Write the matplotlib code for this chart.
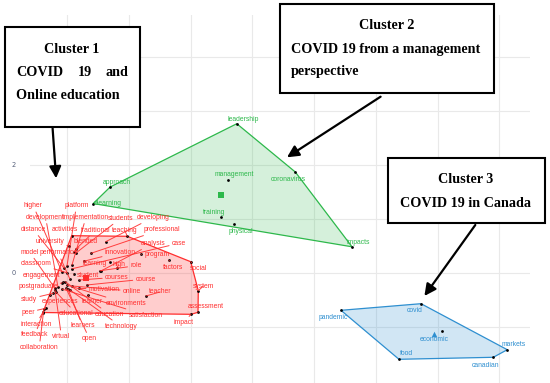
import matplotlib
matplotlib.use("Agg")
import matplotlib.pyplot as plt
from matplotlib.patches import Polygon, Rectangle
from matplotlib.colors import to_rgba

# ---------------- data ----------------
# Cluster 1 : COVID 19 and Online education
c1_words = ["higher", "platform", "development", "implementation", "students", "developing",
            "distance", "activities", "traditional", "teaching", "professional", "university",
            "blended", "analysis", "case", "model", "performance", "innovation", "program",
            "classroom", "learning", "high", "role", "factors", "social", "engagement",
            "student", "courses", "course", "postgraduate", "system", "motivation", "online",
            "teacher", "study", "experiences", "learner", "environments", "assessment", "peer",
            "educational", "education", "satisfaction", "impact", "interaction", "learners",
            "technology", "feedback", "virtual", "open", "collaboration"]
c1_x = [-1.086, -1.005, -1.151, -0.924, -0.859, -0.378, -1.053, -0.929, -0.864, -0.028,
        -0.616, -0.972, -0.886, -0.454, -0.919, -1.199, -0.956, -0.734, 0.194, -1.010,
        -0.308, -0.199, -0.470, 0.648, 1.000, -1.065, -0.896, -0.805, -0.685, -1.086,
        1.123, -0.805, -0.919, 0.275, -1.227, -1.280, -0.660, -1.010, 1.118, -1.351,
        -1.183, -1.032, -1.086, 1.005, -1.389, -0.988, -0.956, -1.373, -1.199, -1.021, -1.386]
c1_y = [0.013, 0.124, -0.264, 0.143, 0.366, 0.575, 0.087, 0.687, 0.434, 0.676,
        0.360, 0.496, 0.390, 0.032, 0.074, -0.290, -0.122, 0.212, 0.341, 0.000,
        0.204, 0.082, 0.037, 0.230, 0.204, -0.178, -0.030, -0.135, -0.228, -0.191,
        -0.334, -0.290, -0.247, -0.432, -0.382, -0.414, -0.414, -0.228, -0.735, -0.661,
        -0.358, -0.167, -0.303, -0.772, -0.724, -0.303, -0.321, -0.674, -0.321, -0.284, -0.739]
c1_centroid = (-0.689, -0.093)

# Cluster 2 : COVID 19 from a management perspective
c2_words = ["leadership", "approach", "elearning", "management", "coronavirus",
            "training", "physical", "impacts"]
c2_x = [1.747, -0.305, -0.580, 1.599, 2.695, 1.499, 1.701, 3.614]
c2_y = [2.765, 1.591, 1.284, 1.715, 1.869, 1.030, 0.895, 0.481]
c2_centroid = (1.491, 1.451)

# Cluster 3 : COVID 19 in Canada
c3_words = ["covid", "pandemic", "economic", "markets", "canadian", "food"]
c3_x = [4.732, 3.435, 5.077, 6.130, 5.903, 4.375]
c3_y = [-0.575, -0.698, -1.082, -1.429, -1.570, -1.607]
c3_centroid = (4.947, -1.138)

y_ticks = [0, 2, 4]
y_ticklabels = ["0", "2", "4"]

# ---------------- layout (label placement) ----------------
c1_label_x = [-1.551, -0.851, -1.351, -0.697, -0.130, 0.394, -1.551, -1.037, -0.538, -0.066,
              0.535, -1.283, -0.697, 0.394, 0.810, -1.610, -1.150, -0.141, 0.450, -1.510,
              -0.556, -0.169, 0.113, 0.718, 1.126, -1.410, -0.669, -0.198, 0.269, -1.476,
              1.206, -0.402, 0.047, 0.502, -1.620, -1.125, -0.601, -0.044, 1.246, -1.637,
              -0.857, -0.318, 0.269, 0.882, -1.505, -0.755, -0.130, -1.523, -1.095, -0.642, -1.454]
c1_label_y = [1.243, 1.243, 1.028, 1.028, 1.015, 1.028, 0.805, 0.805, 0.792, 0.780,
              0.805, 0.583, 0.583, 0.546, 0.546, 0.384, 0.371, 0.384, 0.334, 0.174,
              0.180, 0.148, 0.130, 0.100, 0.069, -0.061, -0.048, -0.085, -0.117, -0.260,
              -0.247, -0.308, -0.340, -0.358, -0.488, -0.538, -0.538, -0.568, -0.618, -0.735,
              -0.754, -0.772, -0.785, -0.928, -0.952, -0.984, -0.995, -1.156, -1.180, -1.225, -1.385]
# offsets in pixels (dx right, dy up)
c2_off = [(6.5, 4.7), (7, 4.7), (15, 0), (7, 5.6), (-7, -7), (-7, 5), (7, -7), (6.5, 4.5)]
c3_off = [(-6, -7), (-7.7, -7), (-8, -8.3), (6.7, 5.7), (-8, -8.4), (7.7, 5.3)]

RED, GREEN, BLUE = "#FF2E2E", "#2DB84B", "#2E8FD0"
LAB_FONT = "Liberation Sans"
BOX_FONT = "Liberation Serif"


def convex_hull(xs, ys):
    pts = sorted(set(zip(xs, ys)))
    def cross(o, a, b):
        return (a[0] - o[0]) * (b[1] - o[1]) - (a[1] - o[1]) * (b[0] - o[0])
    lower, upper = [], []
    for p in pts:
        while len(lower) >= 2 and cross(lower[-2], lower[-1], p) <= 0:
            lower.pop()
        lower.append(p)
    for p in reversed(pts):
        while len(upper) >= 2 and cross(upper[-2], upper[-1], p) <= 0:
            upper.pop()
        upper.append(p)
    return lower[:-1] + upper[:-1]


fig = plt.figure(figsize=(5.5, 3.83), dpi=100)
fig.patch.set_facecolor("white")
ax = fig.add_axes([30 / 550, 0, 500 / 550, 368 / 383])
ax.set_xlim(-1.604, 6.498)
ax.set_ylim(-2.047, 4.783)
ax.set_facecolor("white")
for s in ax.spines.values():
    s.set_visible(False)
ax.set_xticks([0, 2, 4, 6])
ax.set_xticks([-1, 1, 3, 5], minor=True)
ax.set_yticks(y_ticks)
ax.set_yticklabels(y_ticklabels)
ax.set_yticks([-1, 1, 3], minor=True)
ax.tick_params(axis="both", which="both", length=0, labelbottom=False)
ax.tick_params(axis="y", pad=10, labelsize=4.8, labelcolor="#56607a")
ax.grid(True, which="both", color="#e9e9e9", lw=0.8)
ax.set_axisbelow(True)

clusters = [
    (c1_x, c1_y, RED, c1_centroid, "s", 0.24),
    (c2_x, c2_y, GREEN, c2_centroid, "s", 0.2),
    (c3_x, c3_y, BLUE, c3_centroid, "^", 0.22),
]
for xs, ys, col, cen, mk, al in clusters:
    hull = convex_hull(xs, ys)
    ax.add_patch(Polygon(hull, closed=True, facecolor=to_rgba(col, al),
                         edgecolor=col, lw=0.9, zorder=2))
    ax.scatter(xs, ys, s=4, c="black", zorder=4, linewidths=0)
    ax.scatter([cen[0]], [cen[1]], s=16, marker=mk, c=col, zorder=4, linewidths=0)

for w, x, y, lx, ly in zip(c1_words, c1_x, c1_y, c1_label_x, c1_label_y):
    ax.annotate(w, xy=(x, y), xytext=(lx, ly), ha="center", va="center",
                fontsize=4.9, color=RED, family=LAB_FONT, zorder=5,
                arrowprops=dict(arrowstyle="-", color=RED, lw=0.7,
                                shrinkA=0, shrinkB=0, alpha=0.9))

for words, xs, ys, offs, col in [(c2_words, c2_x, c2_y, c2_off, GREEN),
                                 (c3_words, c3_x, c3_y, c3_off, BLUE)]:
    for w, x, y, (dx, dy) in zip(words, xs, ys, offs):
        ax.annotate(w, xy=(x, y), xytext=(dx * 0.72, dy * 0.72), textcoords="offset points",
                    ha="center", va="center", fontsize=4.9, color=col, family=LAB_FONT,
                    zorder=5)

# ---------------- overlay call-out boxes ----------------
ov = fig.add_axes([0, 0, 1, 1])
ov.set_xlim(0, 550)
ov.set_ylim(383, 0)
ov.axis("off")

boxes = [(5, 27.3, 135, 100), (280, 4, 214, 88.7), (388, 158, 157, 65.3)]
for bx, by, bw, bh in boxes:
    ov.add_patch(Rectangle((bx, by), bw, bh, facecolor="white", edgecolor="black", lw=1.5))

tk = dict(fontsize=10.2, fontweight="bold", family=BOX_FONT, color="black", va="baseline")
ov.text(72, 53.3, "Cluster 1", ha="center", **tk)
ov.text(16, 76, "COVID", ha="left", **tk)
ov.text(84.5, 76, "19", ha="center", **tk)
ov.text(128, 76, "and", ha="right", **tk)
ov.text(16, 99.3, "Online education", ha="left", **tk)
ov.text(386.7, 29.3, "Cluster 2", ha="center", **tk)
ov.text(291, 53.3, "COVID 19 from a management", ha="left", **tk)
ov.text(291, 75.5, "perspective", ha="left", **tk)
ov.text(465.6, 183.3, "Cluster 3", ha="center", **tk)
ov.text(465, 206.7, "COVID 19 in Canada", ha="center", **tk)

arrows = [((52.6, 128.3), (56.1, 178.3)), ((380.6, 96.7), (287, 157.3)),
          ((475.3, 225), (424.4, 296))]
for start, end in arrows:
    ov.annotate("", xy=end, xytext=start,
                arrowprops=dict(arrowstyle="-|>,head_length=0.7,head_width=0.35",
                                lw=1.6, color="black", shrinkA=0, shrinkB=0,
                                mutation_scale=10))

fig.savefig("out.png", dpi=100, facecolor="white")
